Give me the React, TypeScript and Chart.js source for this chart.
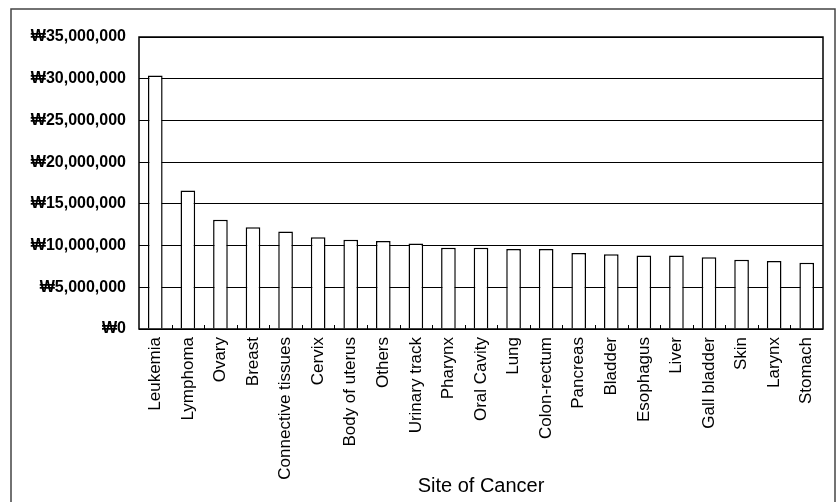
import React, { useEffect, useRef } from "react";
import { Chart, registerables } from "chart.js";

Chart.register(...registerables);

const categories: string[] = [
  "Leukemia", "Lymphoma", "Ovary", "Breast", "Connective tissues", "Cervix",
  "Body of uterus", "Others", "Urinary track", "Pharynx", "Oral Cavity", "Lung",
  "Colon-rectum", "Pancreas", "Bladder", "Esophagus", "Liver", "Gall bladder",
  "Skin", "Larynx", "Stomach",
];

const costs: number[] = [
  30400000, 16600000, 13100000, 12200000, 11700000, 11000000,
  10700000, 10550000, 10250000, 9750000, 9750000, 9600000,
  9600000, 9100000, 8950000, 8800000, 8800000, 8600000,
  8300000, 8150000, 7950000,
];

const yMin = 0;
const yMax = 35000000;
const yStep = 5000000;
const xTitle = "Site of Cancer";

const FONT = "'Liberation Sans', Arial, sans-serif";

const framePlugin = {
  id: "frame",
  afterDraw(chart: any) {
    const { ctx, chartArea } = chart;
    const xs = chart.scales.x;
    ctx.save();
    // plot area border
    ctx.strokeStyle = "#000";
    ctx.lineWidth = 1.5;
    ctx.strokeRect(chartArea.left, chartArea.top, chartArea.right - chartArea.left, chartArea.bottom - chartArea.top);
    // inner tick marks between categories
    ctx.lineWidth = 1;
    ctx.beginPath();
    for (let i = 1; i < categories.length; i++) {
      const x = Math.round((xs.getPixelForTick(i - 1) + xs.getPixelForTick(i)) / 2) + 0.5;
      ctx.moveTo(x, chartArea.bottom - 4);
      ctx.lineTo(x, chartArea.bottom);
    }
    ctx.stroke();
    // outer chart border
    ctx.strokeStyle = "#444";
    ctx.lineWidth = 1.5;
    ctx.strokeRect(11, 9, 824, 600);
    ctx.restore();
  },
};

export default function App() {
  const ref = useRef<HTMLCanvasElement | null>(null);

  useEffect(() => {
    if (!ref.current) return;
    const chart = new Chart(ref.current, {
      type: "bar",
      data: {
        labels: categories,
        datasets: [
          {
            data: costs,
            backgroundColor: "#ffffff",
            borderColor: "#000000",
            borderWidth: 1.5,
            categoryPercentage: 1,
            barPercentage: 0.45,
          },
        ],
      },
      options: {
        animation: false,
        responsive: false,
        maintainAspectRatio: false,
        layout: { padding: { top: 37, right: 14, left: 0, bottom: 0 } },
        plugins: {
          legend: { display: false },
          tooltip: { enabled: false },
          title: { display: false },
        },
        scales: {
          x: {
            grid: { display: false, drawTicks: false },
            border: { display: false },
            ticks: {
              color: "#000",
              font: { family: FONT, size: 17 },
              minRotation: 90,
              maxRotation: 90,
              autoSkip: false,
              padding: 8,
            },
            title: {
              display: true,
              text: xTitle,
              color: "#000",
              font: { family: FONT, size: 20 },
              padding: { top: 0, bottom: 4 },
            },
            afterFit: (s: any) => {
              s.height = 173;
            },
          },
          y: {
            min: yMin,
            max: yMax,
            grid: { color: "#000", lineWidth: 1, drawTicks: false },
            border: { display: false },
            ticks: {
              stepSize: yStep,
              color: "#000",
              font: { family: FONT, size: 16, weight: "bold" },
              padding: 13,
              callback: (v: any) => "\u20A9" + Number(v).toLocaleString("en-US"),
            },
            afterFit: (s: any) => {
              s.width = 139;
            },
          },
        },
      },
      plugins: [framePlugin],
    });
    return () => chart.destroy();
  }, []);

  return (
    <div style={{ position: "fixed", left: 0, top: 0, width: 837, height: 502, background: "#fff" }}>
      <canvas ref={ref} width={837} height={502} style={{ display: "block" }} />
    </div>
  );
}
